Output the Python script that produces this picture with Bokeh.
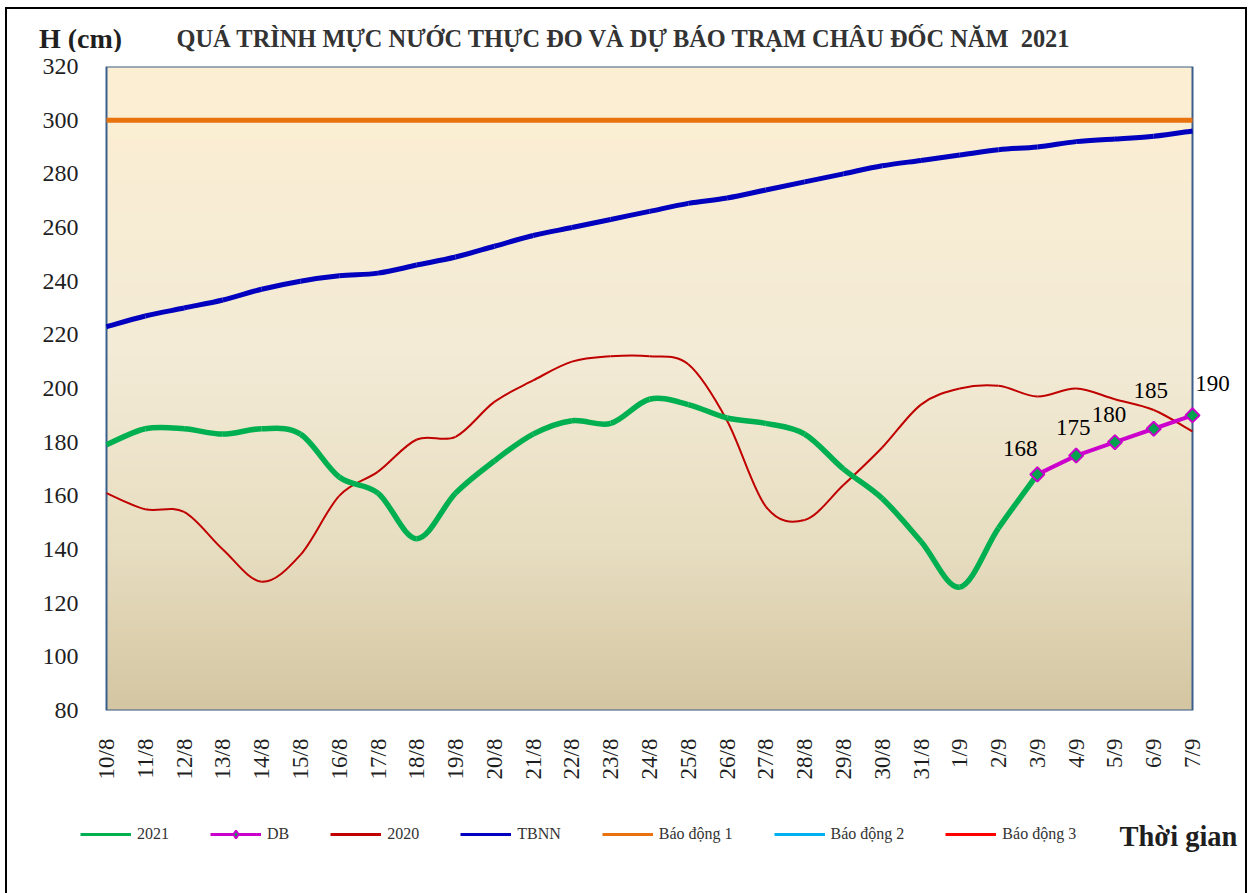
import numpy as np
from math import pi
from bokeh.plotting import figure
from bokeh.layouts import column
from bokeh.models import (FixedTicker, Legend, LegendItem, Range1d, ColumnDataSource, Div)
from bokeh.core.properties import value
from bokeh.embed import file_html
from bokeh.resources import INLINE

# ---------------- data ----------------
dates = ["10/8", "11/8", "12/8", "13/8", "14/8", "15/8", "16/8", "17/8", "18/8",
         "19/8", "20/8", "21/8", "22/8", "23/8", "24/8", "25/8", "26/8", "27/8",
         "28/8", "29/8", "30/8", "31/8", "1/9", "2/9", "3/9", "4/9", "5/9", "6/9", "7/9"]

dates_2021 = dates[:25]
h_2021 = [179, 185, 185, 183, 185, 183, 167, 161, 144, 161, 173, 183, 188, 187,
          196, 194, 189, 187, 183, 170, 159, 143, 126, 148, 168]

h_2020 = [161, 155, 154, 140, 128, 138, 160, 169, 181, 182, 195, 203, 210, 212,
          212, 209, 188, 156, 151, 164, 178, 194, 200, 201, 197, 200, 196, 192, 184]

h_tbnn = [223, 227, 230, 233, 237, 240, 242, 243, 246, 249, 253, 257, 260, 263,
          266, 269, 271, 274, 277, 280, 283, 285, 287, 289, 290, 292, 293, 294, 296]

db_dates = ["3/9", "4/9", "5/9", "6/9", "7/9"]
h_db = [168, 175, 180, 185, 190]

bao_dong_1 = 300
bao_dong_2 = 350
bao_dong_3 = 400

y_min, y_max = 80, 320
y_ticks = [80, 100, 120, 140, 160, 180, 200, 220, 240, 260, 280, 300, 320]

title_text = "QUÁ TRÌNH MỰC NƯỚC THỰC ĐO VÀ DỰ BÁO TRẠM CHÂU ĐỐC NĂM  2021"
y_title = "H (cm)"
x_title = "Thời gian"

# label placement (style only, pixels)
db_label_dx = [-17, -3, -6, -3, 20]
db_label_dy = [-26, -28, -28, -38, -32]

SERIF = "Liberation Serif"
TXT = "#1f1f1f"
C_2021, C_DB, C_2020, C_TBNN = "#00B050", "#CC00CC", "#C00000", "#0000BE"
C_BD1, C_BD2, C_BD3 = "#E8720E", "#00B0F0", "#FF0000"
W, H = 1253, 893
TOP_H = 52          # title strip
MAIN_H = 748        # chart (plot area + tick labels)
BOT_H = H - TOP_H - MAIN_H
FRAME_L = 78        # common frame left of the stacked figures
AREA_L, AREA_W = 106, 1086


def page_border(with_top):
    g = "linear-gradient(#000000,#000000)"
    t = 7 if with_top else 0
    layers = [f"{g} 5px {t}px / 2px 100% no-repeat",
              f"{g} 1245px {t}px / 2px 100% no-repeat"]
    if with_top:
        layers.append(f"{g} 5px 7px / 1242px 2px no-repeat")
    return {"background": ", ".join(layers) + ", #ffffff"}


def smooth(xs, ys):
    """Bezier control points (Catmull-Rom style, like Excel smoothed lines)."""
    xs = np.asarray(xs, float)
    ys = np.asarray(ys, float)
    n = len(xs)
    xp = np.concatenate([[xs[0]], xs, [xs[-1]]])
    yp = np.concatenate([[ys[0]], ys, [ys[-1]]])
    i = np.arange(n - 1) + 1
    return dict(x0=xs[:-1], y0=ys[:-1], x1=xs[1:], y1=ys[1:],
                cx0=xp[i] + (xp[i + 1] - xp[i - 1]) / 6,
                cy0=yp[i] + (yp[i + 1] - yp[i - 1]) / 6,
                cx1=xp[i + 1] - (xp[i + 2] - xp[i]) / 6,
                cy1=yp[i + 1] - (yp[i + 2] - yp[i]) / 6)


xi_all = [dates.index(d) for d in dates]
xi_2021 = [dates.index(d) for d in dates_2021]
xi_db = [dates.index(d) for d in db_dates]
x_last = len(dates) - 1
src_tbnn = ColumnDataSource(smooth(xi_all, h_tbnn))
src_2020 = ColumnDataSource(smooth(xi_all, h_2020))
src_2021 = ColumnDataSource(smooth(xi_2021, h_2021))


def draw_series(fig, st):
    """Draw all series on fig; returns renderers for the legend."""
    def bez(src, col, lw):
        return fig.bezier(source=src, x0="x0", y0="y0", x1="x1", y1="y1",
                          cx0="cx0", cy0="cy0", cx1="cx1", cy1="cy1",
                          line_color=col, line_width=lw)
    r = {}
    r["bd1"] = fig.line(xi_all, [bao_dong_1] * len(dates), line_color=C_BD1,
                        line_width=st["bd1"])
    r["bd2"] = fig.line(xi_all, [bao_dong_2] * len(dates), line_color=C_BD2, line_width=3)
    r["bd3"] = fig.line(xi_all, [bao_dong_3] * len(dates), line_color=C_BD3, line_width=3)
    r["tbnn"] = bez(src_tbnn, C_TBNN, st["tbnn"])
    r["2020"] = bez(src_2020, C_2020, st["2020"])
    r["2021"] = bez(src_2021, C_2021, st["2021"])
    r["db_l"] = fig.line(xi_db, h_db, line_color=C_DB, line_width=st["db"])
    r["db_m"] = fig.scatter(xi_db, h_db, marker=st["marker"], angle=st["angle"],
                            size=st["size"], fill_color="#00A24E",
                            line_color=C_DB, line_width=2)
    return r


# ---------------- top strip: titles ----------------
top_html = (
    f'<div style="position:relative;width:{W}px;height:{TOP_H}px;">'
    f'<div style="position:absolute;left:39px;top:25px;font-family:\'{SERIF}\';'
    f'font-weight:bold;font-size:28px;line-height:28px;color:{TXT};white-space:nowrap;">'
    f'{y_title}</div>'
    f'<div style="position:absolute;left:0px;width:1246px;top:27px;text-align:center;'
    f'font-family:\'{SERIF}\';font-weight:bold;font-size:24.4px;line-height:24.4px;'
    f'color:#333333;white-space:pre;">{title_text}</div></div>')
top = Div(text=top_html, width=W, height=TOP_H, margin=0, styles=page_border(True))

# ---------------- main chart ----------------
px_per_day = AREA_W / x_last
frame_w = W - FRAME_L
x0 = -(AREA_L - FRAME_L) / px_per_day
p = figure(frame_width=frame_w, frame_height=644,
           min_border_left=FRAME_L, min_border_right=0,
           min_border_top=66 - TOP_H, min_border_bottom=MAIN_H - (66 - TOP_H) - 644,
           x_range=Range1d(x0, x0 + frame_w / px_per_day), y_range=Range1d(y_min, y_max),
           output_backend="svg", toolbar_location=None, tools="", margin=0)
p.styles = page_border(False)
p.background_fill_color = None
p.border_fill_color = None
p.xgrid.visible = False
p.ygrid.visible = False
p.outline_line_color = None

# background gradient of the plot area
stops_f = [0.0, 0.45, 0.75, 1.0]          # from top to bottom
stops_c = [(253, 239, 211), (243, 235, 214), (231, 221, 192), (212, 198, 162)]
N = 256
f = 1 - (np.arange(N) + 0.5) / N          # row 0 is bottom
rgb = np.stack([np.interp(f, stops_f, [c[k] for c in stops_c]) for k in range(3)], -1)
img = np.zeros((N, 1), dtype=np.uint32)
view = img.view(dtype=np.uint8).reshape((N, 1, 4))
view[:, 0, 0] = rgb[:, 0]
view[:, 0, 1] = rgb[:, 1]
view[:, 0, 2] = rgb[:, 2]
view[:, 0, 3] = 255
p.image_rgba(image=[img], x=0, y=y_min, dw=x_last, dh=y_max - y_min, level="image")
p.quad(left=0, right=x_last, bottom=y_min, top=y_max, fill_color=None,
       line_color="#3A5E8C", line_width=2)

draw_series(p, {"bd1": 5, "tbnn": 5, "2020": 2, "2021": 5.5, "db": 4,
                "marker": "square", "angle": pi / 4, "size": 10})

lab_src = ColumnDataSource(dict(x=xi_db, y=h_db, t=[str(v) for v in h_db],
                                dx=db_label_dx, dy=db_label_dy))
p.text(x="x", y="y", text="t", x_offset="dx", y_offset="dy", source=lab_src,
       text_font=value(SERIF), text_font_size="23px", text_color="black",
       text_align="center", text_baseline="alphabetic")

# axes
p.yaxis.ticker = FixedTicker(ticks=y_ticks)
p.yaxis.major_tick_line_color = None
p.yaxis.minor_tick_line_color = None
p.yaxis.major_tick_out = 0
p.yaxis.major_tick_in = 0
p.yaxis.axis_line_color = None
p.yaxis.major_label_text_font = SERIF
p.yaxis.major_label_text_font_size = "24px"
p.yaxis.major_label_text_color = TXT
p.yaxis.major_label_standoff = 0

p.xaxis.ticker = FixedTicker(ticks=xi_all)
p.xaxis.major_label_overrides = {i: d for i, d in zip(xi_all, dates)}
p.xaxis.major_label_orientation = pi / 2
p.xaxis.major_tick_line_color = None
p.xaxis.minor_tick_line_color = None
p.xaxis.major_tick_out = 0
p.xaxis.major_tick_in = 0
p.xaxis.axis_line_color = None
p.xaxis.major_label_text_font = SERIF
p.xaxis.major_label_text_font_size = "23px"
p.xaxis.major_label_text_color = TXT
p.xaxis.major_label_standoff = 28

# ---------------- bottom strip: legend + x title ----------------
bot = figure(frame_width=frame_w, frame_height=BOT_H, min_border_left=FRAME_L,
             min_border_right=0, min_border_top=0, min_border_bottom=0,
             x_range=Range1d(FRAME_L, W), y_range=Range1d(BOT_H, 0),
             x_axis_location=None, y_axis_location=None,
             output_backend="svg", toolbar_location=None, tools="", margin=0)
bot.grid.visible = False
bot.outline_line_color = None
bot.background_fill_color = None
bot.border_fill_color = None
bot.styles = page_border(False)
# same series (outside this strip's view) give the legend its glyphs
k = draw_series(bot, {"bd1": 3, "tbnn": 3, "2020": 3, "2021": 3, "db": 3,
                      "marker": "diamond", "angle": 0, "size": 11})

legend = Legend(items=[
    LegendItem(label="2021", renderers=[k["2021"]]),
    LegendItem(label="DB", renderers=[k["db_l"], k["db_m"]]),
    LegendItem(label="2020", renderers=[k["2020"]]),
    LegendItem(label="TBNN", renderers=[k["tbnn"]]),
    LegendItem(label="Báo động 1", renderers=[k["bd1"]]),
    LegendItem(label="Báo động 2", renderers=[k["bd2"]]),
    LegendItem(label="Báo động 3", renderers=[k["bd3"]]),
], orientation="horizontal", location=(80 - FRAME_L, BOT_H - 44),
    glyph_width=51, glyph_height=20, label_height=20, label_standoff=6, spacing=41,
    padding=0, margin=0, border_line_alpha=0, background_fill_alpha=0,
    label_text_font=SERIF, label_text_font_size="16px", label_text_color="#333333")
bot.add_layout(legend, "center")
bot.text(x=[1119], y=[36], text=[x_title], text_font=value(SERIF),
         text_font_size="28.5px", text_font_style="bold", text_color=TXT,
         text_baseline="alphabetic")

layout = column(top, p, bot, spacing=0)
open("out.html", "w").write(file_html(layout, INLINE))
